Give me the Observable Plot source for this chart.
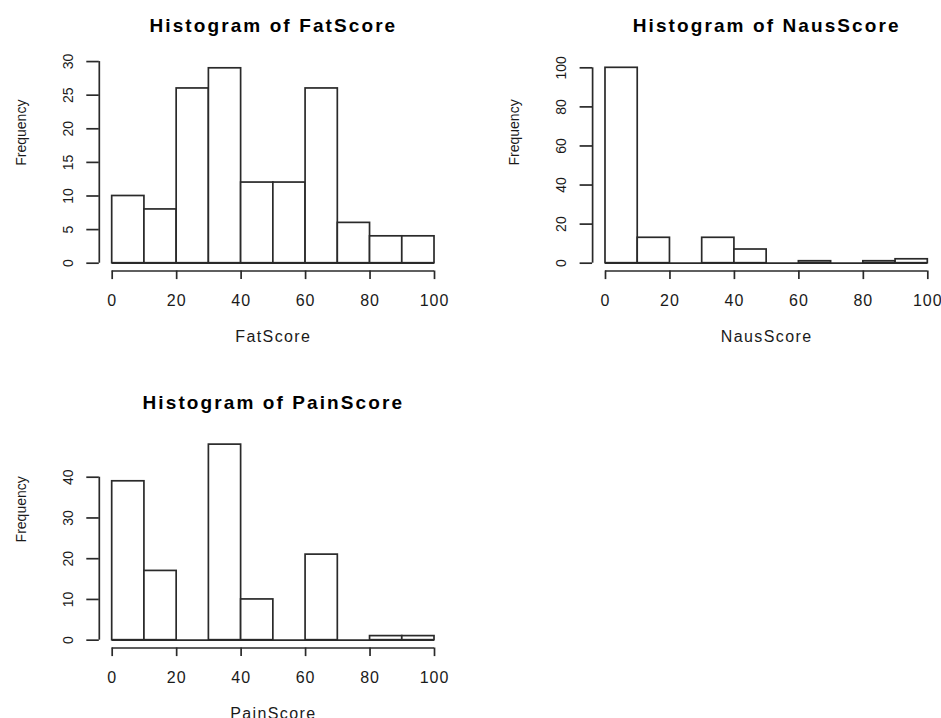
<!DOCTYPE html>
<html>
<head>
<meta charset="utf-8">
<script src="https://cdn.jsdelivr.net/npm/d3@7"></script>
<script src="https://cdn.jsdelivr.net/npm/@observablehq/plot@0.6"></script>
<style>
  html, body { margin: 0; padding: 0; background: #fff; }
  #wrap { position: relative; width: 941px; height: 718px; overflow: hidden; background: #fff; }
  #wrap svg { position: absolute; overflow: visible; }
</style>
</head>
<body>
<div id="wrap"></div>
<script>
// ---- data ----
const binStarts = [0, 10, 20, 30, 40, 50, 60, 70, 80, 90];
const binWidth = 10;
const fatCounts  = [10, 8, 26, 29, 12, 12, 26, 6, 4, 4];
const nausCounts = [100, 13, 0, 13, 7, 0, 1, 0, 1, 2];
const painCounts = [39, 17, 0, 48, 10, 0, 21, 0, 1, 1];
const xTicks = [0, 20, 40, 60, 80, 100];
const fatYTicks  = [0, 5, 10, 15, 20, 25, 30];
const nausYTicks = [0, 20, 40, 60, 80, 100];
const painYTicks = [0, 10, 20, 30, 40];
const titles = ["Histogram of FatScore", "Histogram of NausScore", "Histogram of PainScore"];
const xLabels = ["FatScore", "NausScore", "PainScore"];
const yLabel = "Frequency";

const INK = "#2a2a2a";
const FONT = "'Liberation Sans', Arial, Helvetica, sans-serif";

function panel({counts, yTicks, title, xlab, left, top, width, height, mL, mR, mT, mB}) {
  const bins = binStarts.map((s, i) => ({start: s, end: s + binWidth, count: counts[i]}));
  const ymax = d3.max(counts);
  const yDom = [-0.04 * ymax, 1.04 * ymax];
  const xDom = [-4, 104];
  const svg = Plot.plot({
    width, height,
    marginLeft: mL, marginRight: mR, marginTop: mT, marginBottom: mB,
    style: {fontFamily: FONT, color: "#000", background: "transparent", overflow: "visible"},
    x: {domain: xDom, axis: null},
    y: {domain: yDom, axis: null},
    marks: [
      Plot.rectY(bins, {x1: "start", x2: "end", y: "count", fill: "white", stroke: INK, strokeWidth: 1.7}),
      Plot.ruleY([0], {x1: xTicks[0], x2: xTicks[xTicks.length - 1], stroke: INK, strokeWidth: 1.7}),
      // x axis
      Plot.ruleY([yDom[0]], {x1: xTicks[0], x2: xTicks[xTicks.length - 1], stroke: INK, strokeWidth: 1.7}),
      Plot.axisX({ticks: xTicks, anchor: "bottom", tickSize: 8.6, tickPadding: 15.5, fontSize: 16,
                  label: null, stroke: INK, strokeWidth: 1.7, fill: "#1a1a1a"}),
      // y axis
      Plot.ruleX([xDom[0]], {y1: yTicks[0], y2: yTicks[yTicks.length - 1], stroke: INK, strokeWidth: 1.7}),
      Plot.axisY({ticks: yTicks, anchor: "left", tickSize: 12.5, tickPadding: 14, tickRotate: -90,
                  fontSize: 14, label: null, stroke: INK, strokeWidth: 1.7, fill: "#1a1a1a"}),
      // titles
      Plot.text([title], {frameAnchor: "top", dy: -28.3, lineAnchor: "bottom", fontSize: 19,
                          fontWeight: "bold", fill: "#000"}),
      Plot.text([xlab], {frameAnchor: "bottom", dy: 71, lineAnchor: "bottom", fontSize: 16,
                         fill: "#1a1a1a"}),
      Plot.text([yLabel], {frameAnchor: "left", dx: -73.3, rotate: -90, lineAnchor: "bottom",
                           fontSize: 14, fill: "#1a1a1a"})
    ]
  });
  // widen horizontal texts slightly, as in the (horizontally stretched) reference
  d3.select(svg).selectAll("text").each(function() {
    const t = this.textContent;
    if (t === title) this.style.letterSpacing = "2.1px";
    else if (t === xlab) this.style.letterSpacing = "1.4px";
    else if (xTicks.map(String).includes(t) && this.closest('g[aria-label="x-axis tick label"]')) this.style.letterSpacing = "1px";
  });
  svg.style.left = left + "px";
  svg.style.top = top + "px";
  document.getElementById("wrap").appendChild(svg);
}

panel({counts: fatCounts, yTicks: fatYTicks, title: titles[0], xlab: xLabels[0],
       left: 0, top: 0, width: 470, height: 359, mL: 98.8, mR: 23.1, mT: 60, mB: 88.5});
panel({counts: nausCounts, yTicks: nausYTicks, title: titles[1], xlab: xLabels[1],
       left: 470, top: 0, width: 471, height: 359, mL: 122.1, mR: 0.8, mT: 59.5, mB: 88.5});
panel({counts: painCounts, yTicks: painYTicks, title: titles[2], xlab: xLabels[2],
       left: 0, top: 359, width: 470, height: 359, mL: 98.8, mR: 23.1, mT: 77.3, mB: 70.5});
</script>
</body>
</html>
